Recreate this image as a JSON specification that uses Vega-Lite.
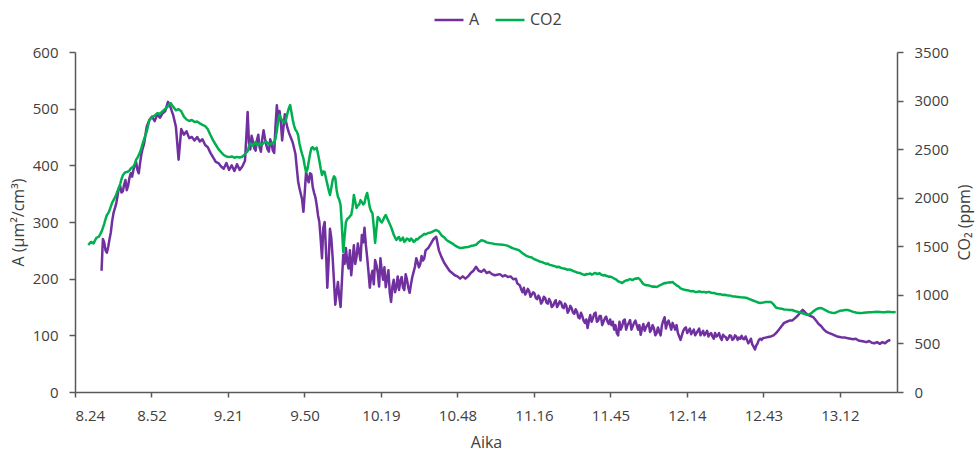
{
  "$schema": "https://vega.github.io/schema/vega-lite/v6.json",
  "width": 822,
  "height": 340,
  "autosize": "none",
  "padding": {"left": 75, "top": 52, "right": 81, "bottom": 59},
  "background": "white",
  "config": {
    "font": "Open Sans",
    "view": {"stroke": null},
    "axis": {
      "grid": false,
      "domainColor": "#595959",
      "domainWidth": 1.5,
      "tickColor": "#595959",
      "tickWidth": 1.5,
      "tickSize": 6,
      "labelColor": "#404040",
      "labelFontSize": 15,
      "labelPadding": 10,
      "titleColor": "#404040",
      "titleFontSize": 16,
      "titleFontWeight": "normal"
    },
    "legend": {
      "orient": "none",
      "legendX": 358,
      "legendY": -48,
      "direction": "horizontal",
      "symbolType": "stroke",
      "symbolSize": 841,
      "symbolStrokeWidth": 2.5,
      "labelFontSize": 16,
      "labelColor": "#404040",
      "labelOffset": 4,
      "columnPadding": 10,
      "title": null
    }
  },
  "data": {
    "format": {"parse": {"t": "date:'%H:%M:%S'"}},
    "values": [
      {"t":"8:29:00","CO2":1513},{"t":"8:30:00","CO2":1545},{"t":"8:31:00","CO2":1530},{"t":"8:32:00","CO2":1585},{"t":"8:33:00","CO2":1600},
      {"t":"8:34:00","A":214,"CO2":1650},{"t":"8:35:00","A":264,"CO2":1730},{"t":"8:36:00","A":246,"CO2":1822},{"t":"8:37:00","A":270,"CO2":1870},{"t":"8:38:00","A":302,"CO2":1950},
      {"t":"8:39:00","A":324,"CO2":2000},{"t":"8:40:00","A":346,"CO2":2070},{"t":"8:41:00","A":364,"CO2":2140},{"t":"8:42:00","A":354,"CO2":2230},{"t":"8:43:00","A":374,"CO2":2262},
      {"t":"8:44:00","A":364,"CO2":2270},{"t":"8:45:00","A":386,"CO2":2300},{"t":"8:46:00","A":392,"CO2":2320},{"t":"8:47:00","A":406,"CO2":2390},{"t":"8:48:00","A":386,"CO2":2440},
      {"t":"8:49:00","A":420,"CO2":2510},{"t":"8:50:00","A":438,"CO2":2600},{"t":"8:51:00","A":468,"CO2":2680},{"t":"8:52:00","A":480,"CO2":2800},{"t":"8:53:00","A":486,"CO2":2830},
      {"t":"8:54:00","A":478,"CO2":2845},{"t":"8:55:00","A":490,"CO2":2870},{"t":"8:56:00","A":484,"CO2":2865},{"t":"8:57:00","A":492,"CO2":2890},{"t":"8:58:00","A":496,"CO2":2915},
      {"t":"8:59:00","A":512,"CO2":2940},{"t":"9:00:00","A":502,"CO2":2975},{"t":"9:01:00","A":488,"CO2":2935},{"t":"9:02:00","A":468,"CO2":2900},{"t":"9:03:00","A":410,"CO2":2912},
      {"t":"9:04:00","A":464,"CO2":2890},{"t":"9:05:00","A":454,"CO2":2835},{"t":"9:06:00","A":460,"CO2":2805},{"t":"9:07:00","A":448,"CO2":2790},{"t":"9:08:00","A":450,"CO2":2800},
      {"t":"9:09:00","A":444,"CO2":2780},{"t":"9:10:00","A":450,"CO2":2784},{"t":"9:11:00","A":442,"CO2":2765},{"t":"9:12:00","A":446,"CO2":2750},{"t":"9:13:00","A":436,"CO2":2738},
      {"t":"9:14:00","A":432,"CO2":2705},{"t":"9:15:00","A":422,"CO2":2645},{"t":"9:16:00","A":414,"CO2":2590},{"t":"9:17:00","A":406,"CO2":2545},{"t":"9:18:00","A":404,"CO2":2500},
      {"t":"9:19:00","A":398,"CO2":2470},{"t":"9:20:00","A":394,"CO2":2440},{"t":"9:21:00","A":404,"CO2":2425},{"t":"9:22:00","A":392,"CO2":2418},{"t":"9:23:00","A":400,"CO2":2425},
      {"t":"9:24:00","A":390,"CO2":2412},{"t":"9:25:00","A":402,"CO2":2420},{"t":"9:26:00","A":392,"CO2":2414},{"t":"9:27:00","A":398,"CO2":2422},{"t":"9:28:00","A":408,"CO2":2450},
      {"t":"9:29:00","A":494,"CO2":2478},{"t":"9:30:00","A":428,"CO2":2560},{"t":"9:31:00","A":442,"CO2":2535},{"t":"9:32:00","A":426,"CO2":2575},{"t":"9:33:00","A":454,"CO2":2548},
      {"t":"9:34:00","A":424,"CO2":2540},{"t":"9:35:00","A":462,"CO2":2565},{"t":"9:36:00","A":436,"CO2":2578},{"t":"9:37:00","A":424,"CO2":2552},{"t":"9:38:00","A":438,"CO2":2560},
      {"t":"9:39:00","A":422,"CO2":2562},{"t":"9:40:00","A":506,"CO2":2690},{"t":"9:41:00","A":496,"CO2":2850},{"t":"9:42:00","A":444,"CO2":2796},{"t":"9:43:00","A":490,"CO2":2775},
      {"t":"9:44:00","A":466,"CO2":2870},{"t":"9:45:00","A":452,"CO2":2954},{"t":"9:46:00","A":440,"CO2":2800},{"t":"9:47:00","A":420,"CO2":2700},{"t":"9:48:00","A":372,"CO2":2645},
      {"t":"9:49:00","A":350,"CO2":2500},{"t":"9:50:00","A":318,"CO2":2405},{"t":"9:51:00","A":388,"CO2":2265},{"t":"9:52:00","A":370,"CO2":2370},{"t":"9:53:00","A":384,"CO2":2512},
      {"t":"9:54:00","A":352,"CO2":2498},{"t":"9:55:00","A":330,"CO2":2515},{"t":"9:56:00","A":300,"CO2":2380},{"t":"9:57:00","A":236,"CO2":2234},{"t":"9:58:00","A":300,"CO2":2265},
      {"t":"9:59:00","A":184,"CO2":2140},{"t":"10:00:00","A":288,"CO2":2028},{"t":"10:01:00","A":238,"CO2":2180},{"t":"10:02:00","A":154,"CO2":2203},{"t":"10:03:00","A":194,"CO2":2010},
      {"t":"10:04:00","A":150,"CO2":1925},{"t":"10:05:00","A":242,"CO2":1441},{"t":"10:06:00","A":254,"CO2":1750},{"t":"10:07:00","A":218,"CO2":1790},{"t":"10:08:00","A":206,"CO2":1822},
      {"t":"10:09:00","A":259,"CO2":2028},{"t":"10:10:00","A":238,"CO2":1894},{"t":"10:11:00","A":248,"CO2":1930},{"t":"10:12:00","A":277,"CO2":1956},{"t":"10:13:00","A":290,"CO2":1945},
      {"t":"10:14:00","A":238,"CO2":2049},{"t":"10:15:00","A":184,"CO2":1900},{"t":"10:16:00","A":214,"CO2":1840},{"t":"10:17:00","A":233,"CO2":1534},{"t":"10:18:00","A":210,"CO2":1801},
      {"t":"10:19:00","A":236,"CO2":1760},{"t":"10:20:00","A":198,"CO2":1770},{"t":"10:21:00","A":185,"CO2":1822},{"t":"10:22:00","A":215,"CO2":1760},{"t":"10:23:00","A":159,"CO2":1699},
      {"t":"10:24:00","A":198,"CO2":1620},{"t":"10:25:00","A":186,"CO2":1565},{"t":"10:26:00","A":180,"CO2":1596},{"t":"10:27:00","A":203,"CO2":1570},{"t":"10:28:00","A":180,"CO2":1544},
      {"t":"10:29:00","A":198,"CO2":1580},{"t":"10:30:00","A":175,"CO2":1556},{"t":"10:31:00","A":203,"CO2":1568},{"t":"10:32:00","A":221,"CO2":1552},{"t":"10:33:00","A":229,"CO2":1570},
      {"t":"10:34:00","A":226,"CO2":1598},{"t":"10:35:00","A":232,"CO2":1616},{"t":"10:36:00","A":250,"CO2":1622},{"t":"10:37:00","A":254,"CO2":1637},{"t":"10:38:00","A":262,"CO2":1642},
      {"t":"10:39:00","A":270,"CO2":1655},{"t":"10:40:00","A":274,"CO2":1668},{"t":"10:41:00","A":250,"CO2":1652},{"t":"10:42:00","A":238,"CO2":1612},{"t":"10:43:00","A":228,"CO2":1592},
      {"t":"10:44:00","A":221,"CO2":1562},{"t":"10:45:00","A":214,"CO2":1546},{"t":"10:46:00","A":210,"CO2":1530},{"t":"10:47:00","A":206,"CO2":1510},{"t":"10:48:00","A":204,"CO2":1494},
      {"t":"10:49:00","A":200,"CO2":1482},{"t":"10:50:00","A":204,"CO2":1486},{"t":"10:51:00","A":200,"CO2":1490},{"t":"10:52:00","A":204,"CO2":1493},{"t":"10:53:00","A":210,"CO2":1502},
      {"t":"10:54:00","A":214,"CO2":1508},{"t":"10:55:00","A":221,"CO2":1515},{"t":"10:56:00","A":214,"CO2":1542},{"t":"10:57:00","A":212,"CO2":1562},{"t":"10:58:00","A":216,"CO2":1556},
      {"t":"10:59:00","A":210,"CO2":1540},{"t":"11:00:00","A":212,"CO2":1534},{"t":"11:01:00","A":208,"CO2":1530},{"t":"11:02:00","A":206,"CO2":1524},{"t":"11:03:00","A":207,"CO2":1520},
      {"t":"11:04:00","A":208,"CO2":1518},{"t":"11:05:00","A":204,"CO2":1516},{"t":"11:06:00","A":206,"CO2":1512},{"t":"11:07:00","A":203,"CO2":1504},{"t":"11:08:00","A":204,"CO2":1490},
      {"t":"11:09:00","A":199,"CO2":1478},{"t":"11:10:00","A":200,"CO2":1470},{"t":"11:11:00","A":190,"CO2":1462},{"t":"11:12:00","A":181,"CO2":1440},{"t":"11:13:00","A":184,"CO2":1420},
      {"t":"11:14:00","A":176,"CO2":1402},{"t":"11:15:00","A":178,"CO2":1390},{"t":"11:16:00","A":172,"CO2":1384},{"t":"11:17:00","A":174,"CO2":1366},{"t":"11:18:00","A":164,"CO2":1356},
      {"t":"11:19:00","A":166,"CO2":1342},{"t":"11:20:00","A":160,"CO2":1336},{"t":"11:21:00","A":166,"CO2":1325},{"t":"11:22:00","A":156,"CO2":1322},{"t":"11:23:00","A":160,"CO2":1306},
      {"t":"11:24:00","A":152,"CO2":1300},{"t":"11:25:00","A":162,"CO2":1292},{"t":"11:26:00","A":154,"CO2":1290},{"t":"11:27:00","A":158,"CO2":1278},{"t":"11:28:00","A":148,"CO2":1272},
      {"t":"11:29:00","A":152,"CO2":1264},{"t":"11:30:00","A":144,"CO2":1262},{"t":"11:31:00","A":148,"CO2":1254},{"t":"11:32:00","A":138,"CO2":1242},{"t":"11:33:00","A":142,"CO2":1230},
      {"t":"11:34:00","A":130,"CO2":1226},{"t":"11:35:00","A":134,"CO2":1212},{"t":"11:36:00","A":122,"CO2":1204},{"t":"11:37:00","A":113,"CO2":1212},{"t":"11:38:00","A":136,"CO2":1220},
      {"t":"11:39:00","A":130,"CO2":1212},{"t":"11:40:00","A":140,"CO2":1226},{"t":"11:41:00","A":126,"CO2":1218},{"t":"11:42:00","A":134,"CO2":1210},{"t":"11:43:00","A":124,"CO2":1200},
      {"t":"11:44:00","A":133,"CO2":1196},{"t":"11:45:00","A":120,"CO2":1186},{"t":"11:46:00","A":118,"CO2":1184},{"t":"11:47:00","A":110,"CO2":1168},{"t":"11:48:00","A":104,"CO2":1152},
      {"t":"11:49:00","A":124,"CO2":1134},{"t":"11:50:00","A":116,"CO2":1122},{"t":"11:51:00","A":128,"CO2":1142},{"t":"11:52:00","A":118,"CO2":1150},{"t":"11:53:00","A":127,"CO2":1162},
      {"t":"11:54:00","A":116,"CO2":1154},{"t":"11:55:00","A":126,"CO2":1168},{"t":"11:56:00","A":110,"CO2":1173},{"t":"11:57:00","A":101,"CO2":1150},{"t":"11:58:00","A":120,"CO2":1112},
      {"t":"11:59:00","A":114,"CO2":1100},{"t":"12:00:00","A":122,"CO2":1096},{"t":"12:01:00","A":110,"CO2":1088},{"t":"12:02:00","A":112,"CO2":1086},{"t":"12:03:00","A":104,"CO2":1081},
      {"t":"12:04:00","A":106,"CO2":1096},{"t":"12:05:00","A":118,"CO2":1108},{"t":"12:06:00","A":132,"CO2":1122},{"t":"12:07:00","A":122,"CO2":1126},{"t":"12:08:00","A":118,"CO2":1130},
      {"t":"12:09:00","A":122,"CO2":1132},{"t":"12:10:00","A":110,"CO2":1110},{"t":"12:11:00","A":104,"CO2":1090},{"t":"12:12:00","A":92,"CO2":1068},{"t":"12:13:00","A":108,"CO2":1056},
      {"t":"12:14:00","A":114,"CO2":1050},{"t":"12:15:00","A":108,"CO2":1046},{"t":"12:16:00","A":102,"CO2":1038},{"t":"12:17:00","A":110,"CO2":1036},{"t":"12:18:00","A":104,"CO2":1029},
      {"t":"12:19:00","A":112,"CO2":1036},{"t":"12:20:00","A":104,"CO2":1028},{"t":"12:21:00","A":100,"CO2":1030},{"t":"12:22:00","A":108,"CO2":1026},{"t":"12:23:00","A":102,"CO2":1029},
      {"t":"12:24:00","A":98,"CO2":1018},{"t":"12:25:00","A":104,"CO2":1016},{"t":"12:26:00","A":100,"CO2":1008},{"t":"12:27:00","A":96,"CO2":1006},{"t":"12:28:00","A":101,"CO2":998},
      {"t":"12:29:00","A":97,"CO2":999},{"t":"12:30:00","A":95,"CO2":994},{"t":"12:31:00","A":99,"CO2":990},{"t":"12:32:00","A":94,"CO2":984},{"t":"12:33:00","A":98,"CO2":981},
      {"t":"12:34:00","A":96,"CO2":978},{"t":"12:35:00","A":99,"CO2":974},{"t":"12:36:00","A":93,"CO2":972},{"t":"12:37:00","A":92,"CO2":968},{"t":"12:38:00","A":89,"CO2":956},
      {"t":"12:39:00","A":84,"CO2":944},{"t":"12:40:00","A":75,"CO2":934},{"t":"12:41:00","A":86,"CO2":924},{"t":"12:42:00","A":94,"CO2":916},{"t":"12:43:00","A":95,"CO2":920},
      {"t":"12:44:00","A":96,"CO2":926},{"t":"12:45:00","A":97,"CO2":927},{"t":"12:46:00","A":98,"CO2":927},{"t":"12:47:00","A":100,"CO2":902},{"t":"12:48:00","A":104,"CO2":868},
      {"t":"12:49:00","A":110,"CO2":862},{"t":"12:50:00","A":116,"CO2":858},{"t":"12:51:00","A":122,"CO2":850},{"t":"12:52:00","A":124,"CO2":848},{"t":"12:53:00","A":126,"CO2":845},
      {"t":"12:54:00","A":126,"CO2":844},{"t":"12:55:00","A":130,"CO2":834},{"t":"12:56:00","A":134,"CO2":826},{"t":"12:57:00","A":140,"CO2":818},{"t":"12:58:00","A":145,"CO2":810},
      {"t":"12:59:00","A":140,"CO2":800},{"t":"13:00:00","A":136,"CO2":793},{"t":"13:01:00","A":134,"CO2":806},{"t":"13:02:00","A":132,"CO2":830},{"t":"13:03:00","A":126,"CO2":850},
      {"t":"13:04:00","A":120,"CO2":862},{"t":"13:05:00","A":116,"CO2":865},{"t":"13:06:00","A":110,"CO2":850},{"t":"13:07:00","A":106,"CO2":836},{"t":"13:08:00","A":104,"CO2":822},
      {"t":"13:09:00","A":102,"CO2":815},{"t":"13:10:00","A":100,"CO2":813},{"t":"13:11:00","A":98,"CO2":825},{"t":"13:12:00","A":97,"CO2":836},{"t":"13:13:00","A":96,"CO2":840},
      {"t":"13:14:00","A":96,"CO2":844},{"t":"13:15:00","A":95,"CO2":844},{"t":"13:16:00","A":94,"CO2":835},{"t":"13:17:00","A":93,"CO2":825},{"t":"13:18:00","A":94,"CO2":818},
      {"t":"13:19:00","A":91,"CO2":813},{"t":"13:20:00","A":90,"CO2":812},{"t":"13:21:00","A":89,"CO2":815},{"t":"13:22:00","A":88,"CO2":818},{"t":"13:23:00","A":90,"CO2":820},
      {"t":"13:24:00","A":87,"CO2":822},{"t":"13:25:00","A":86,"CO2":824},{"t":"13:26:00","A":88,"CO2":826},{"t":"13:27:00","A":85,"CO2":824},{"t":"13:28:00","A":88,"CO2":820},
      {"t":"13:29:00","A":86,"CO2":822},{"t":"13:30:00","A":90,"CO2":826},{"t":"13:31:00","A":92,"CO2":824},{"t":"13:32:00","CO2":822},{"t":"13:33:00","CO2":824},

      {"t":"8:34:30","A":270,"CO2":1690},{"t":"8:35:30","A":250,"CO2":1780},{"t":"8:36:30","A":256,"CO2":1840},{"t":"8:37:30","A":282,"CO2":1910},{"t":"8:38:30","A":316,"CO2":1975},
      {"t":"8:39:30","A":332,"CO2":2030},{"t":"8:40:30","A":360,"CO2":2100},{"t":"8:41:30","A":352,"CO2":2190},{"t":"8:42:30","A":366,"CO2":2250},{"t":"8:43:30","A":356,"CO2":2265},
      {"t":"8:44:30","A":378,"CO2":2280},{"t":"8:45:30","A":380,"CO2":2310},{"t":"8:46:30","A":400,"CO2":2350},{"t":"8:47:30","A":392,"CO2":2410},{"t":"8:48:30","A":404,"CO2":2470},
      {"t":"8:49:30","A":430,"CO2":2560},
      {"t":"9:28:30","A":450,"CO2":2465},{"t":"9:29:30","A":440,"CO2":2530},{"t":"9:30:30","A":452,"CO2":2545},{"t":"9:31:30","A":430,"CO2":2560},{"t":"9:32:30","A":444,"CO2":2540},
      {"t":"9:33:30","A":432,"CO2":2560},{"t":"9:34:30","A":446,"CO2":2548},{"t":"9:35:30","A":448,"CO2":2570},{"t":"9:36:30","A":428,"CO2":2562},{"t":"9:37:30","A":446,"CO2":2550},
      {"t":"9:38:30","A":426,"CO2":2568},{"t":"9:39:30","A":470,"CO2":2610},{"t":"9:40:30","A":480,"CO2":2790},{"t":"9:41:30","A":476,"CO2":2820},{"t":"9:42:30","A":468,"CO2":2780},
      {"t":"9:43:30","A":476,"CO2":2810},{"t":"9:44:30","A":458,"CO2":2920},{"t":"9:45:30","A":446,"CO2":2880},{"t":"9:46:30","A":430,"CO2":2740},{"t":"9:47:30","A":396,"CO2":2680},
      {"t":"9:48:30","A":360,"CO2":2560},{"t":"9:49:30","A":340,"CO2":2450},{"t":"9:50:30","A":352,"CO2":2330},{"t":"9:51:30","A":378,"CO2":2290},{"t":"9:52:30","A":386,"CO2":2450},
      {"t":"9:53:30","A":362,"CO2":2520},{"t":"9:54:30","A":344,"CO2":2505},{"t":"9:55:30","A":312,"CO2":2450},{"t":"9:56:30","A":270,"CO2":2300},{"t":"9:57:30","A":290,"CO2":2270},
      {"t":"9:58:30","A":250,"CO2":2200},{"t":"9:59:30","A":230,"CO2":2080},{"t":"10:00:30","A":272,"CO2":2100},{"t":"10:01:30","A":196,"CO2":2220},{"t":"10:02:30","A":176,"CO2":2080},
      {"t":"10:03:30","A":168,"CO2":1980},{"t":"10:04:30","A":196,"CO2":1700},{"t":"10:05:30","A":226,"CO2":1600},{"t":"10:06:30","A":230,"CO2":1780},{"t":"10:07:30","A":250,"CO2":1810},
      {"t":"10:08:30","A":232,"CO2":1900},{"t":"10:09:30","A":226,"CO2":1960},{"t":"10:10:30","A":262,"CO2":1920},{"t":"10:11:30","A":232,"CO2":1975},{"t":"10:12:30","A":264,"CO2":1930},
      {"t":"10:13:30","A":260,"CO2":2010},{"t":"10:14:30","A":212,"CO2":1980},{"t":"10:15:30","A":204,"CO2":1860},{"t":"10:16:30","A":190,"CO2":1700},{"t":"10:17:30","A":224,"CO2":1680},
      {"t":"10:18:30","A":186,"CO2":1790},{"t":"10:19:30","A":214,"CO2":1745},{"t":"10:20:30","A":220,"CO2":1800},{"t":"10:21:30","A":200,"CO2":1790},{"t":"10:22:30","A":176,"CO2":1730},
      {"t":"10:23:30","A":186,"CO2":1660},{"t":"10:24:30","A":176,"CO2":1590},{"t":"10:25:30","A":204,"CO2":1585},{"t":"10:26:30","A":196,"CO2":1560},{"t":"10:27:30","A":184,"CO2":1590},
      {"t":"10:28:30","A":208,"CO2":1560},{"t":"10:29:30","A":184,"CO2":1572},{"t":"10:30:30","A":190,"CO2":1580},{"t":"10:31:30","A":212,"CO2":1545},{"t":"10:32:30","A":236,"CO2":1575},
      {"t":"10:33:30","A":220,"CO2":1585},{"t":"10:34:30","A":240,"CO2":1605},{"t":"10:35:30","A":236,"CO2":1628},
      {"t":"11:10:30","A":192,"CO2":1466},{"t":"11:11:30","A":188,"CO2":1452},{"t":"11:12:30","A":176,"CO2":1428},{"t":"11:13:30","A":172,"CO2":1410},{"t":"11:14:30","A":182,"CO2":1396},
      {"t":"11:15:30","A":168,"CO2":1388},{"t":"11:16:30","A":176,"CO2":1374},{"t":"11:17:30","A":166,"CO2":1362},{"t":"11:18:30","A":170,"CO2":1350},{"t":"11:19:30","A":156,"CO2":1340},
      {"t":"11:20:30","A":168,"CO2":1330},{"t":"11:21:30","A":158,"CO2":1318},{"t":"11:22:30","A":164,"CO2":1312},{"t":"11:23:30","A":150,"CO2":1304},{"t":"11:24:30","A":158,"CO2":1296},
      {"t":"11:25:30","A":150,"CO2":1284},{"t":"11:26:30","A":160,"CO2":1284},{"t":"11:27:30","A":150,"CO2":1274},{"t":"11:28:30","A":156,"CO2":1268},{"t":"11:29:30","A":140,"CO2":1258},
      {"t":"11:30:30","A":152,"CO2":1258},{"t":"11:31:30","A":140,"CO2":1246},{"t":"11:32:30","A":146,"CO2":1236},{"t":"11:33:30","A":132,"CO2":1228},{"t":"11:34:30","A":140,"CO2":1220},
      {"t":"11:35:30","A":126,"CO2":1208},{"t":"11:36:30","A":128,"CO2":1214},{"t":"11:37:30","A":126,"CO2":1216},{"t":"11:38:30","A":124,"CO2":1208},{"t":"11:39:30","A":138,"CO2":1222},
      {"t":"11:40:30","A":124,"CO2":1214},{"t":"11:41:30","A":134,"CO2":1222},{"t":"11:42:30","A":118,"CO2":1204},{"t":"11:43:30","A":130,"CO2":1204},{"t":"11:44:30","A":124,"CO2":1192},
      {"t":"11:45:30","A":128,"CO2":1188},{"t":"11:46:30","A":124,"CO2":1176},{"t":"11:47:30","A":118,"CO2":1162},{"t":"11:48:30","A":100,"CO2":1140},{"t":"11:49:30","A":110,"CO2":1128},
      {"t":"11:50:30","A":126,"CO2":1132},{"t":"11:51:30","A":110,"CO2":1148},{"t":"11:52:30","A":122,"CO2":1156},{"t":"11:53:30","A":110,"CO2":1156},{"t":"11:54:30","A":122,"CO2":1162},
      {"t":"11:55:30","A":118,"CO2":1166},{"t":"11:56:30","A":118,"CO2":1164},{"t":"11:57:30","A":112,"CO2":1128},{"t":"11:58:30","A":108,"CO2":1104},{"t":"11:59:30","A":118,"CO2":1098},
      {"t":"12:00:30","A":106,"CO2":1092},{"t":"12:01:30","A":118,"CO2":1084},{"t":"12:02:30","A":100,"CO2":1084},{"t":"12:03:30","A":114,"CO2":1088},{"t":"12:04:30","A":100,"CO2":1102},
      {"t":"12:05:30","A":126,"CO2":1116},{"t":"12:06:30","A":112,"CO2":1120},{"t":"12:07:30","A":126,"CO2":1128},{"t":"12:08:30","A":110,"CO2":1128},{"t":"12:09:30","A":116,"CO2":1120},
      {"t":"12:10:30","A":118,"CO2":1098},{"t":"12:11:30","A":98,"CO2":1080},{"t":"12:12:30","A":100,"CO2":1060},{"t":"12:13:30","A":112,"CO2":1052},{"t":"12:14:30","A":104,"CO2":1048},
      {"t":"12:15:30","A":112,"CO2":1040},{"t":"12:16:30","A":106,"CO2":1040},{"t":"12:17:30","A":100,"CO2":1030},{"t":"12:18:30","A":108,"CO2":1032},{"t":"12:19:30","A":100,"CO2":1032},
      {"t":"12:20:30","A":108,"CO2":1030},{"t":"12:21:30","A":104,"CO2":1024},{"t":"12:22:30","A":98,"CO2":1030},{"t":"12:23:30","A":104,"CO2":1022},{"t":"12:24:30","A":94,"CO2":1018},
      {"t":"12:25:30","A":98,"CO2":1010},{"t":"12:26:30","A":104,"CO2":1006},{"t":"12:27:30","A":92,"CO2":1002},{"t":"12:28:30","A":98,"CO2":1000},{"t":"12:29:30","A":92,"CO2":996},
      {"t":"12:30:30","A":100,"CO2":992},{"t":"12:31:30","A":92,"CO2":986},{"t":"12:32:30","A":100,"CO2":984},{"t":"12:33:30","A":92,"CO2":978},{"t":"12:34:30","A":94,"CO2":976},
      {"t":"12:35:30","A":94,"CO2":972},{"t":"12:36:30","A":98,"CO2":970},{"t":"12:37:30","A":86,"CO2":962},{"t":"12:38:30","A":94,"CO2":950},{"t":"12:39:30","A":80,"CO2":940},
      {"t":"12:40:30","A":82,"CO2":930},{"t":"12:41:30","A":92,"CO2":918},{"t":"12:42:30","A":92,"CO2":918}
    ]
  },
  "encoding": {
    "x": {
      "field": "t",
      "type": "temporal",
      "scale": {
        "nice": false,
        "domain": [
          {"year": 1900, "month": 1, "date": 1, "hours": 8, "minutes": 24},
          {"year": 1900, "month": 1, "date": 1, "hours": 13, "minutes": 33, "seconds": 30}
        ]
      },
      "axis": {
        "title": "Aika",
        "format": "%-H.%M",
        "tickSize": 5,
        "labelPadding": 11,
        "titlePadding": 11,
        "values": [
          {"year": 1900, "month": 1, "date": 1, "hours": 8, "minutes": 24},
          {"year": 1900, "month": 1, "date": 1, "hours": 8, "minutes": 52, "seconds": 48},
          {"year": 1900, "month": 1, "date": 1, "hours": 9, "minutes": 21, "seconds": 36},
          {"year": 1900, "month": 1, "date": 1, "hours": 9, "minutes": 50, "seconds": 24},
          {"year": 1900, "month": 1, "date": 1, "hours": 10, "minutes": 19, "seconds": 12},
          {"year": 1900, "month": 1, "date": 1, "hours": 10, "minutes": 48},
          {"year": 1900, "month": 1, "date": 1, "hours": 11, "minutes": 16, "seconds": 48},
          {"year": 1900, "month": 1, "date": 1, "hours": 11, "minutes": 45, "seconds": 36},
          {"year": 1900, "month": 1, "date": 1, "hours": 12, "minutes": 14, "seconds": 24},
          {"year": 1900, "month": 1, "date": 1, "hours": 12, "minutes": 43, "seconds": 12},
          {"year": 1900, "month": 1, "date": 1, "hours": 13, "minutes": 12}
        ]
      }
    }
  },
  "layer": [
    {
      "mark": {"type": "line", "strokeWidth": 2.5, "strokeJoin": "round"},
      "encoding": {
        "y": {
          "field": "A",
          "type": "quantitative",
          "scale": {"domain": [0, 600], "nice": false},
          "axis": {
            "title": "A (µm²/cm³)",
            "values": [0, 100, 200, 300, 400, 500, 600],
            "format": "d",
            "labelPadding": 11,
            "titlePadding": 6
          }
        },
        "color": {
          "datum": "A",
          "type": "nominal",
          "scale": {"domain": ["A", "CO2"], "range": ["#7030A0", "#00B050"]}
        }
      }
    },
    {
      "mark": {"type": "line", "strokeWidth": 2.5, "strokeJoin": "round"},
      "encoding": {
        "y": {
          "field": "CO2",
          "type": "quantitative",
          "scale": {"domain": [0, 3500], "nice": false},
          "axis": {
            "orient": "right",
            "title": "CO₂ (ppm)",
            "titleAngle": -90,
            "titleBaseline": "top",
            "values": [0, 500, 1000, 1500, 2000, 2500, 3000, 3500],
            "format": "d",
            "labelPadding": 11,
            "titlePadding": 8
          }
        },
        "color": {"datum": "CO2", "type": "nominal"}
      }
    }
  ],
  "resolve": {"scale": {"y": "independent"}}
}
